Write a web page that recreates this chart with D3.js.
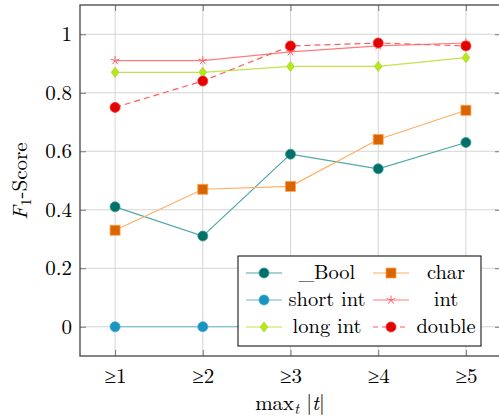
<!DOCTYPE html>
<html><head><meta charset="utf-8">
<script src="https://cdn.jsdelivr.net/npm/d3@7"></script>
<style>body{margin:0;background:#fff}svg{display:block}</style>
</head><body><svg id="c" width="499" height="417"></svg>
<script>
const categories = ["≥1","≥2","≥3","≥4","≥5"];
const xValues = [1,2,3,4,5];
const yTicks = [0,0.2,0.4,0.6,0.8,1];
const boolVals = [0.41,0.31,0.59,0.54,0.63];
const charVals = [0.33,0.47,0.48,0.64,0.74];
const shortVals = [0,0,0,0,0];
const intVals = [0.91,0.91,0.94,0.96,0.97];
const longVals = [0.87,0.87,0.89,0.89,0.92];
const doubleVals = [0.75,0.84,0.96,0.97,0.96];
const seriesNames = ["_Bool","char","short int","int","long int","double"];

const FONT = "'Latin Modern Roman', 'Liberation Serif', serif";
const series = [
  {name:seriesNames[0], vals:boolVals, line:"#4fa8a6", fill:"#00706b", stroke:"#3a9a96", sym:"circle", dash:null, col:0,row:0},
  {name:seriesNames[1], vals:charVals, line:"#ffae60", fill:"#d96500", stroke:"#ffa050", sym:"square", dash:null, col:1,row:0},
  {name:seriesNames[2], vals:shortVals, line:"#6ab5cf", fill:"#1895c0", stroke:"#40a8cc", sym:"circle", dash:null, col:0,row:1},
  {name:seriesNames[3], vals:intVals, line:"#ff7b7b", fill:"#ff6060", stroke:"#ff6060", sym:"star", dash:null, col:1,row:1},
  {name:seriesNames[4], vals:longVals, line:"#c2e34a", fill:"#b8e61c", stroke:"#a6d820", sym:"diamond", dash:null, col:0,row:2},
  {name:seriesNames[5], vals:doubleVals, line:"#ff5a5a", fill:"#e30000", stroke:"#ff3030", sym:"circle", dash:"6,4", col:1,row:2}
];

const svg = d3.select("#c");
const L=80, R=501, T=5, B=356;
const x = d3.scaleLinear().domain([0.6,5.4]).range([L,R]);
const y = d3.scaleLinear().domain([-0.1,1.1]).range([B,T]);

// grid
const g = svg.append("g");
g.selectAll(".gx").data(xValues).enter().append("line")
  .attr("x1",d=>x(d)).attr("x2",d=>x(d)).attr("y1",T).attr("y2",B)
  .attr("stroke","#d4d4d4").attr("stroke-width",1);
g.selectAll(".gy").data(yTicks).enter().append("line")
  .attr("x1",L).attr("x2",R).attr("y1",d=>y(d)).attr("y2",d=>y(d))
  .attr("stroke","#d4d4d4").attr("stroke-width",1);

// axes with inner ticks
const xAxis = svg.append("g").attr("transform",`translate(0,${B})`)
  .call(d3.axisBottom(x).tickValues(xValues).tickFormat((d,i)=>categories[i]).tickSizeInner(-6).tickSizeOuter(0).tickPadding(12));
const xTop = svg.append("g").attr("transform",`translate(0,${T})`)
  .call(d3.axisTop(x).tickValues(xValues).tickFormat("").tickSizeInner(-6).tickSizeOuter(0));
const yAxis = svg.append("g").attr("transform",`translate(${L},0)`)
  .call(d3.axisLeft(y).tickValues(yTicks).tickFormat(d=>d===0?"0":d===1?"1":d3.format(".1f")(d)).tickSizeInner(-6).tickSizeOuter(0).tickPadding(8));
const yRight = svg.append("g").attr("transform",`translate(${R},0)`)
  .call(d3.axisRight(y).tickValues(yTicks).tickFormat("").tickSizeInner(-6).tickSizeOuter(0));
[xAxis,xTop,yAxis,yRight].forEach(a=>{
  a.attr("font-family",null).attr("font-size",null);
  a.select(".domain").remove();
  a.selectAll(".tick line").attr("stroke","#777").attr("stroke-width",1);
  a.selectAll("text").style("font-family",FONT).style("font-size","21px").attr("fill","#000");
});
// frame
svg.append("rect").attr("x",L).attr("y",T).attr("width",R-L).attr("height",B-T)
  .attr("fill","none").attr("stroke","#444").attr("stroke-width",1.3);

function marker(sel, s, cx, cy){
  if(s.sym==="circle"){
    sel.append("circle").attr("cx",cx).attr("cy",cy).attr("r",5).attr("fill",s.fill).attr("stroke",s.stroke).attr("stroke-width",0.8);
  } else if(s.sym==="square"){
    sel.append("rect").attr("x",cx-5).attr("y",cy-5).attr("width",10).attr("height",10).attr("fill",s.fill).attr("stroke",s.stroke).attr("stroke-width",0.8);
  } else if(s.sym==="diamond"){
    sel.append("path").attr("d",`M${cx},${cy-5}L${cx+3.8},${cy}L${cx},${cy+5}L${cx-3.8},${cy}Z`).attr("fill",s.fill).attr("stroke",s.stroke).attr("stroke-width",0.8);
  } else if(s.sym==="star"){
    let p="";
    for(let k=0;k<5;k++){const a=-Math.PI/2+k*2*Math.PI/5;p+=`M${cx},${cy}L${cx+4.5*Math.cos(a)},${cy+4.5*Math.sin(a)}`;}
    sel.append("path").attr("d",p).attr("stroke",s.fill).attr("stroke-width",1).attr("fill","none");
  }
}

const line = d3.line().x((d,i)=>x(xValues[i])).y(d=>y(d));
const order = [2,0,1,4,3,5];
order.forEach(k=>{
  const s=series[k];
  const sg=svg.append("g");
  sg.append("path").attr("d",line(s.vals)).attr("fill","none").attr("stroke",s.line).attr("stroke-width",1.2)
    .attr("stroke-dasharray",s.dash);
  s.vals.forEach((v,i)=>marker(sg,s,x(xValues[i]),y(v)));
});

// legend
const lg = svg.append("g");
lg.append("rect").attr("x",238).attr("y",256).attr("width",243).attr("height",90).attr("fill","#fff").attr("stroke","#000").attr("stroke-width",1);
const colX=[246,373], colText=[327,446], rowY=[273,300,327];
series.forEach(s=>{
  const lx=colX[s.col], ly=rowY[s.row];
  lg.append("line").attr("x1",lx).attr("x2",lx+36).attr("y1",ly).attr("y2",ly).attr("stroke",s.line).attr("stroke-width",1.2).attr("stroke-dasharray",s.dash?"5,4":null);
  marker(lg,s,lx+18,ly);
  lg.append("text").attr("x",colText[s.col]).attr("y",ly+6).attr("text-anchor","middle").style("font-family",FONT).style("font-size","20.5px").text(s.name);
});

// axis labels
svg.append("text").attr("x",290).attr("y",410).attr("text-anchor","middle").style("font-family",FONT).style("font-size","21px")
  .html('max<tspan font-style="italic" font-size="15" dy="4">t</tspan><tspan dy="-4"> |</tspan><tspan font-style="italic">t</tspan>|');
svg.append("text").attr("transform","translate(27,181) rotate(-90)").attr("text-anchor","middle").style("font-family",FONT).style("font-size","21px")
  .html('<tspan font-style="italic">F</tspan><tspan font-size="15" dy="4">1</tspan><tspan dy="-4">-Score</tspan>');
</script></body></html>
